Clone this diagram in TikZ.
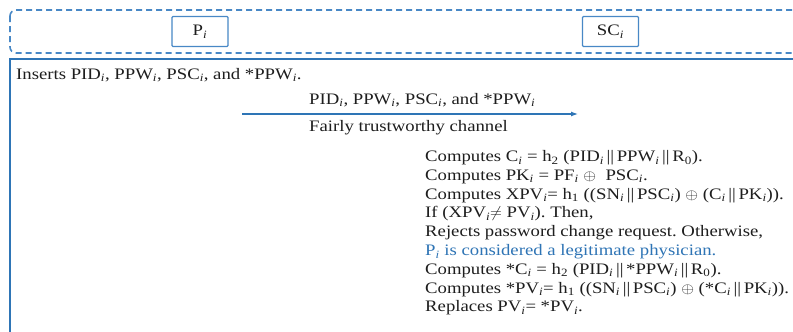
\documentclass[tikz,border=0pt]{standalone}
\usepackage{fontspec}
\setmainfont{Liberation Serif}[FakeStretch=1.17]
\usetikzlibrary{arrows.meta}
\frenchspacing
\definecolor{frameblue}{RGB}{72,136,198}
\definecolor{lineblue}{RGB}{46,117,182}
\definecolor{textblue}{RGB}{46,116,181}
\definecolor{inkgray}{RGB}{30,30,30}
\newcommand\sbi{\textsubscript{\textit{i}}}
\newcommand\sbn[1]{\textsubscript{#1}}
\newcommand\cat{\,||\,}
\newcommand\xorop{\scalebox{0.95}[0.85]{$\oplus$}}
\newcommand\neqop{\scalebox{0.95}[0.9]{$\neq$}}
\tikzset{
  txt/.style={anchor=base west, inner sep=0pt, text=inkgray,
              font=\fontsize{16}{19}\selectfont},
  actor/.style={draw=frameblue, line width=1.2pt, rounded corners=1pt,
                minimum width=56pt, minimum height=30pt, inner sep=0pt,
                text=inkgray, font=\fontsize{16}{19}\selectfont},
  dashframe/.style={draw=frameblue, line width=1.6pt, dash pattern=on 6pt off 4pt,
                    rounded corners=6pt},
  solidframe/.style={draw=lineblue, line width=1.8pt},
  msg/.style={draw=lineblue, line width=1.2pt, -{Latex[length=7pt,width=5pt]}},
}
\begin{document}
\begin{tikzpicture}[x=1pt,y=-1pt]
\useasboundingbox (0,0) rectangle (793,332);
\clip (0,0) rectangle (793,332);
\fill[white] (0,0) rectangle (793,332);

% participants band
\draw[dashframe] (10,10) rectangle (810,53);
\node[actor] (P) at (200,31.5) {P\sbi};
\node[actor] (SC) at (610.5,31.5) {SC\sbi};

% message area frame
\draw[solidframe] (10,340) -- (10,59) -- (800,59);

\node[txt] (ins) at (16,79) {Inserts PID\sbi, PPW\sbi, PSC\sbi, and *PPW\sbi.};

% message over the channel
\coordinate (from) at (242,114);
\coordinate (to) at (578,114);
\draw[msg] (from) -- (to);
\node[txt] (m1) at (309,104) {PID\sbi, PPW\sbi, PSC\sbi, and *PPW\sbi};
\node[txt] (m2) at (309,131) {Fairly trustworthy channel};

% server side computations
\node[txt] (c1) at (425,161.5) {Computes C\sbi\ = h\sbn{2} (PID\sbi\cat PPW\sbi\cat R\sbn{0}).};
\node[txt] (c2) at (425,180.3) {Computes PK\sbi\ = PF\sbi\ \xorop\ \ PSC\sbi.};
\node[txt] (c3) at (425,199.1) {Computes XPV\sbi= h\sbn{1} ((SN\sbi\cat PSC\sbi) \xorop\ (C\sbi\cat PK\sbi)).};
\node[txt] (c4) at (425,217.9) {If (XPV\sbi\neqop\ PV\sbi). Then,};
\node[txt] (c5) at (425,236.7) {Rejects password change request. Otherwise,};
\node[txt, text=textblue] (c6) at (425,255.5) {P\sbi\ is considered a legitimate physician.};
\node[txt] (c7) at (425,274.3) {Computes *C\sbi\ = h\sbn{2} (PID\sbi\cat *PPW\sbi\cat R\sbn{0}).};
\node[txt] (c8) at (425,293.1) {Computes *PV\sbi= h\sbn{1} ((SN\sbi\cat PSC\sbi) \xorop\ (*C\sbi\cat PK\sbi)).};
\node[txt] (c9) at (425,311.9) {Replaces PV\sbi= *PV\sbi.};
\end{tikzpicture}
\end{document}
